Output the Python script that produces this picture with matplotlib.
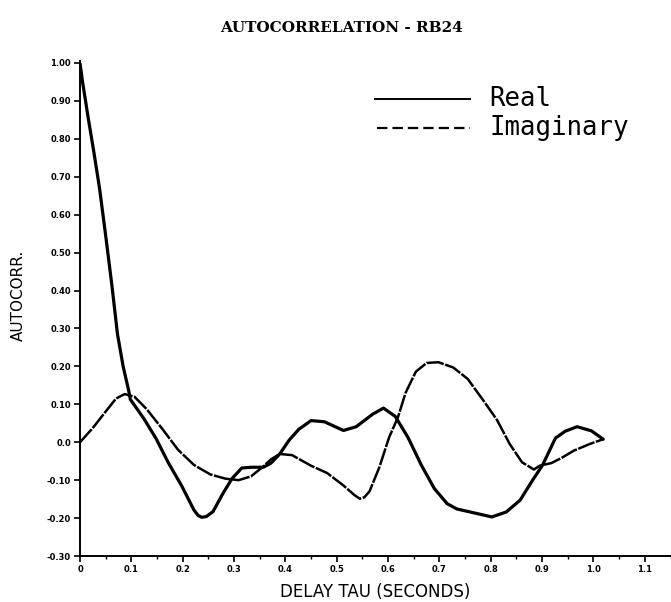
import matplotlib
matplotlib.use("Agg")
import matplotlib.pyplot as plt
from matplotlib.lines import Line2D

# Delay (seconds) and autocorrelation values
real_tau = [0.000, 0.005, 0.016, 0.027, 0.038, 0.050, 0.062, 0.073, 0.084, 0.095,
            0.098, 0.124, 0.148, 0.172, 0.198, 0.222, 0.230, 0.237, 0.246, 0.259,
            0.278, 0.296, 0.315, 0.333, 0.357, 0.372, 0.389, 0.407, 0.426, 0.450,
            0.476, 0.513, 0.538, 0.570, 0.591, 0.614, 0.639, 0.665, 0.690, 0.715,
            0.734, 0.773, 0.802, 0.830, 0.857, 0.881, 0.901, 0.926, 0.945, 0.968,
            0.996, 1.019]
real_val = [1.000, 0.950, 0.855, 0.765, 0.670, 0.545, 0.415, 0.285, 0.200, 0.135,
            0.113, 0.063, 0.010, -0.054, -0.115, -0.179, -0.193, -0.198, -0.196, -0.183,
            -0.136, -0.096, -0.068, -0.066, -0.066, -0.055, -0.031, 0.005, 0.034, 0.057,
            0.054, 0.031, 0.041, 0.074, 0.090, 0.068, 0.012, -0.061, -0.122, -0.162,
            -0.176, -0.188, -0.197, -0.184, -0.153, -0.101, -0.060, 0.011, 0.029, 0.041,
            0.030, 0.008]

imag_tau = [0.000, 0.024, 0.050, 0.070, 0.087, 0.106, 0.130, 0.161, 0.191, 0.222,
            0.254, 0.283, 0.309, 0.333, 0.357, 0.372, 0.389, 0.413, 0.450, 0.481,
            0.513, 0.535, 0.545, 0.554, 0.564, 0.583, 0.602, 0.619, 0.634, 0.654,
            0.675, 0.698, 0.727, 0.755, 0.784, 0.812, 0.837, 0.861, 0.884, 0.895,
            0.918, 0.937, 0.962, 0.994, 1.019]
imag_val = [0.000, 0.036, 0.081, 0.115, 0.127, 0.120, 0.087, 0.034, -0.020, -0.060,
            -0.085, -0.096, -0.100, -0.090, -0.064, -0.045, -0.031, -0.034, -0.062, -0.081,
            -0.114, -0.140, -0.149, -0.145, -0.129, -0.066, 0.013, 0.065, 0.130, 0.186,
            0.209, 0.211, 0.197, 0.167, 0.113, 0.059, -0.005, -0.053, -0.072, -0.062,
            -0.055, -0.042, -0.022, -0.004, 0.008]

x_ticks = [0, 0.1, 0.2, 0.3, 0.4, 0.5, 0.6, 0.7, 0.8, 0.9, 1.0, 1.1]
x_tick_labels = ["0", "0.1", "0.2", "0.3", "0.4", "0.5", "0.6", "0.7", "0.8", "0.9", "1.0", "1.1"]
y_ticks = [1.0, 0.9, 0.8, 0.7, 0.6, 0.5, 0.4, 0.3, 0.2, 0.1, 0.0, -0.1, -0.2, -0.3]
y_tick_labels = ["1.00", "0.90", "0.80", "0.70", "0.60", "0.50", "0.40", "0.30",
                 "0.20", "0.10", "0.0", "-0.10", "-0.20", "-0.30"]

W, H = 671, 602
fig = plt.figure(figsize=(W / 100, H / 100), dpi=100)
fig.patch.set_facecolor("white")


def fx(px):
    return px / W


def fy(py):
    return 1 - py / H


ax = fig.add_axes([fx(80), fy(556), fx(670.5) - fx(80), fy(63) - fy(556)])
ax.set_xlim(0, 1.11)
ax.set_ylim(-0.30, 1.0)

ax.plot(real_tau, real_val, color="black", lw=2.3, solid_joinstyle="round",
        solid_capstyle="round")
ax.plot(imag_tau, imag_val, color="black", lw=1.8, dashes=(7, 0.6),
        dash_joinstyle="round")

for side in ("top", "right"):
    ax.spines[side].set_visible(False)
for side in ("left", "bottom"):
    ax.spines[side].set_linewidth(1.4)
ax.spines["left"].set_bounds(-0.3, 1.005)

ax.set_xticks(x_ticks)
ax.set_xticklabels(x_tick_labels)
ax.set_xticks([t + 0.05 for t in x_ticks], minor=True)
ax.set_yticks(y_ticks)
ax.set_yticklabels(y_tick_labels)
ax.tick_params(axis="both", which="major", direction="out", length=4, width=1.2,
               pad=2.5, labelsize=6)
ax.tick_params(axis="x", which="minor", direction="out", length=2.5, width=1.0)
for lab in ax.get_xticklabels() + ax.get_yticklabels():
    lab.set_fontweight("bold")

# Titles and axis labels
fig.text(fx(341), fy(28), "AUTOCORRELATION - RB24", ha="center", va="center",
         family="DejaVu Serif", fontweight="bold", fontsize=11)
fig.text(fx(18), fy(295), "AUTOCORR.", ha="center", va="center", rotation=90,
         family="DejaVu Sans", fontsize=11)
fig.text(fx(375), fy(592), "DELAY TAU (SECONDS)", ha="center", va="center",
         family="DejaVu Sans", fontsize=12)

# Legend
fig.add_artist(Line2D([fx(375), fx(470)], [fy(99), fy(99)], color="black", lw=1.4))
fig.add_artist(Line2D([fx(377), fx(470)], [fy(128), fy(128)], color="black", lw=1.6,
                      dashes=(7.5 / 1.6, 3.6 / 1.6)))
fig.text(fx(489), fy(99), "Real", ha="left", va="center",
         family="DejaVu Sans Mono", fontsize=18.5)
fig.text(fx(489), fy(128), "Imaginary", ha="left", va="center",
         family="DejaVu Sans Mono", fontsize=18.5)

fig.savefig("out.png", dpi=100, facecolor="white")
